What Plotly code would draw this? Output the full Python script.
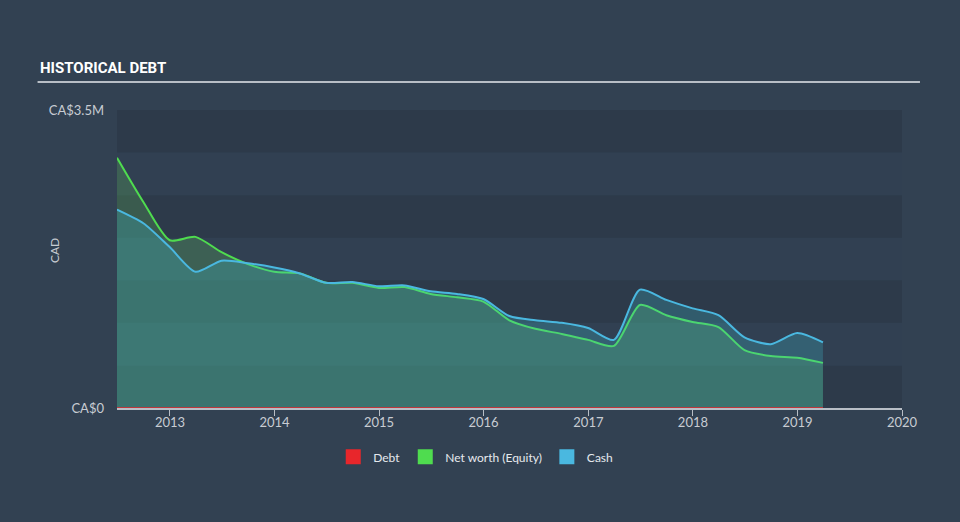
import plotly.graph_objects as go

dates = ["2012-06-30", "2012-09-30", "2012-12-31", "2013-03-31", "2013-06-30", "2013-09-30",
         "2013-12-31", "2014-03-31", "2014-06-30", "2014-09-30", "2014-12-31", "2015-03-31",
         "2015-06-30", "2015-09-30", "2015-12-31", "2016-03-31", "2016-06-30", "2016-09-30",
         "2016-12-31", "2017-03-31", "2017-06-30", "2017-09-30", "2017-12-31", "2018-03-31",
         "2018-06-30", "2018-09-30", "2018-12-31", "2019-03-31"]
net_worth = [2.94, 2.42, 1.97, 2.01, 1.83, 1.69, 1.60, 1.58, 1.47, 1.47, 1.41, 1.42, 1.34, 1.30,
             1.25, 1.03, 0.93, 0.87, 0.80, 0.73, 1.21, 1.09, 1.01, 0.95, 0.68, 0.61, 0.59, 0.53]
cash = [2.33, 2.17, 1.89, 1.60, 1.73, 1.70, 1.65, 1.58, 1.47, 1.48, 1.43, 1.44, 1.37, 1.34,
        1.28, 1.08, 1.03, 1.00, 0.94, 0.80, 1.39, 1.27, 1.17, 1.09, 0.83, 0.75, 0.88, 0.77]
debt = [0.0] * len(dates)
year_ticks = ["2013-01-01", "2014-01-01", "2015-01-01", "2016-01-01", "2017-01-01",
              "2018-01-01", "2019-01-01", "2020-01-01"]
year_labels = ["2013", "2014", "2015", "2016", "2017", "2018", "2019", "2020"]
y_ticks = [0, 3.5e6]
y_labels = ["CA$0", "CA$3.5M"]

net_worth_m = [v * 1e6 for v in net_worth]
cash_m = [v * 1e6 for v in cash]
debt_m = [v * 1e6 for v in debt]

FONT = "Lato, Open Sans, sans-serif"
RED, GREEN, BLUE = "#e8262b", "#4fdc4f", "#4ab8e0"

fig = go.Figure()
fig.add_trace(go.Scatter(x=dates, y=net_worth_m, name="Net worth (Equity)", mode="lines",
                         line=dict(color=GREEN, width=2, shape="spline", smoothing=0.7),
                         fill="tozeroy", fillcolor="rgba(100,190,90,0.25)", showlegend=False))
fig.add_trace(go.Scatter(x=dates, y=cash_m, name="Cash", mode="lines",
                         line=dict(color=BLUE, width=2, shape="spline", smoothing=0.7),
                         fill="tozeroy", fillcolor="rgba(65,192,211,0.25)", showlegend=False))
fig.add_trace(go.Scatter(x=dates, y=debt_m, name="Debt", mode="lines",
                         line=dict(color=RED, width=1.5), showlegend=False))
for nm, col in [("Debt", RED), ("Net worth (Equity)", GREEN), ("Cash", BLUE)]:
    fig.add_trace(go.Scatter(x=[None], y=[None], name=nm, mode="markers",
                             marker=dict(symbol="square", size=15, color=col)))

shapes = []
for i in range(7):
    dark = (i % 2 == 0)
    shapes.append(dict(type="rect", xref="paper", yref="y", x0=0, x1=1,
                       y0=i * 0.5e6, y1=(i + 1) * 0.5e6, layer="below", line=dict(width=0),
                       fillcolor="#2d3a4a" if dark else "#314052"))
shapes.append(dict(type="line", xref="paper", yref="paper", x0=-0.1012, x1=1.0229,
                   y0=1.094, y1=1.094, line=dict(color="#b8bec6", width=2)))

fig.update_layout(
    width=960, height=522,
    paper_bgcolor="#324152", plot_bgcolor="rgba(0,0,0,0)",
    margin=dict(l=117, r=58, t=110, b=114),
    shapes=shapes,
    showlegend=True,
    legend=dict(orientation="h", x=0.457, xanchor="center", y=-0.164, yanchor="middle",
                font=dict(color="#e6e9ee", size=12, family=FONT),
                bgcolor="rgba(0,0,0,0)", itemwidth=30),
    annotations=[
        dict(text="<b>HISTORICAL DEBT</b>", xref="paper", yref="paper",
             x=-0.1012, y=1.105, xanchor="left", yanchor="bottom", showarrow=False,
             font=dict(color="#ffffff", size=15, family="Roboto, sans-serif")),
        dict(text="CAD", xref="paper", yref="paper", x=-0.0803, y=0.53, textangle=-90,
             xanchor="center", yanchor="middle", showarrow=False,
             font=dict(color="#c8ccd2", size=12, family=FONT)),
    ],
    xaxis=dict(type="date", range=["2012-06-30", "2020-01-01"], tickvals=year_ticks,
               ticktext=year_labels, showgrid=False, zeroline=False,
               showline=True, linecolor="#b8bec6", linewidth=1.5,
               ticks="outside", ticklen=6, tickcolor="#b8bec6", ticklabelstandoff=-4,
               tickfont=dict(color="#c8ccd2", size=13, family=FONT)),
    yaxis=dict(range=[0, 3.5e6], tickvals=y_ticks, ticktext=y_labels,
               showgrid=False, zeroline=False, showline=False, ticks="",
               ticklabelstandoff=12,
               tickfont=dict(color="#c8ccd2", size=13, family=FONT)),
)

fig.write_html("out.html")
